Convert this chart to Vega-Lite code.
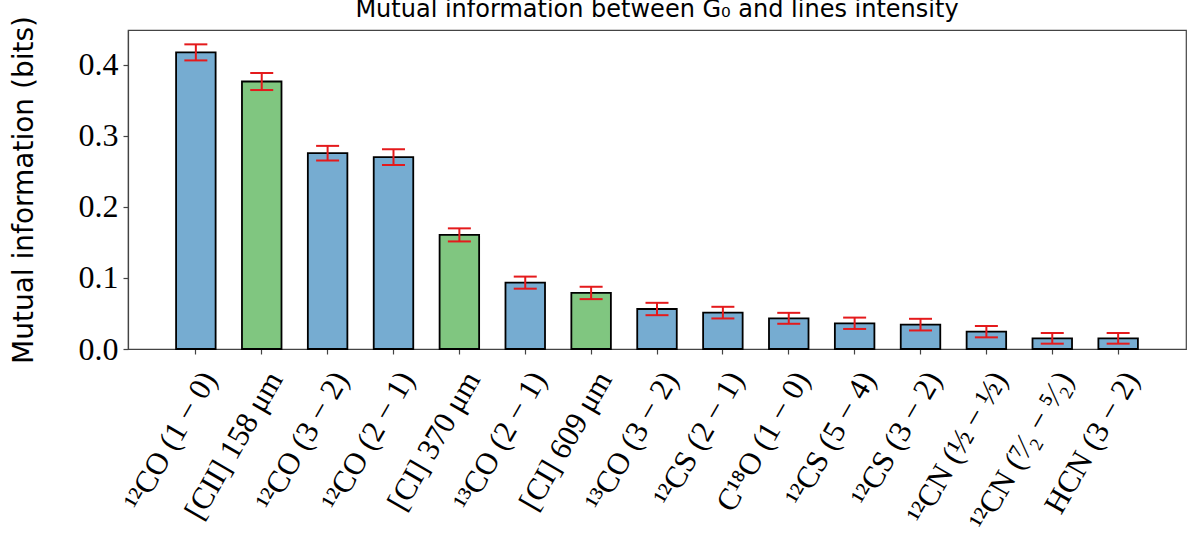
{
  "$schema": "https://vega.github.io/schema/vega-lite/v6.json",
  "width": 1058,
  "height": 319,
  "autosize": {"type": "none"},
  "padding": {"left": 128, "top": 30, "right": 10, "bottom": 188},
  "background": "#ffffff",
  "title": {
    "text": "Mutual information between G₀ and lines intensity",
    "font": "DejaVu Sans",
    "fontSize": 24,
    "fontWeight": "normal",
    "color": "#000000",
    "baseline": "alphabetic",
    "offset": 6,
    "dy": 31
  },
  "data": {
    "values": [
      {"line": "¹²CO (1 − 0)", "kind": "molecular", "mi": 0.4175, "err": 0.0113},
      {"line": "[CII] 158 μm", "kind": "atomic", "mi": 0.3765, "err": 0.012},
      {"line": "¹²CO (3 − 2)", "kind": "molecular", "mi": 0.2756, "err": 0.0103},
      {"line": "¹²CO (2 − 1)", "kind": "molecular", "mi": 0.270, "err": 0.011},
      {"line": "[CI] 370 μm", "kind": "atomic", "mi": 0.1606, "err": 0.0092},
      {"line": "¹³CO (2 − 1)", "kind": "molecular", "mi": 0.0934, "err": 0.0085},
      {"line": "[CI] 609 μm", "kind": "atomic", "mi": 0.0789, "err": 0.0087},
      {"line": "¹³CO (3 − 2)", "kind": "molecular", "mi": 0.0563, "err": 0.0087},
      {"line": "¹²CS (2 − 1)", "kind": "molecular", "mi": 0.0512, "err": 0.0082},
      {"line": "C¹⁸O (1 − 0)", "kind": "molecular", "mi": 0.0432, "err": 0.0077},
      {"line": "¹²CS (5 − 4)", "kind": "molecular", "mi": 0.0362, "err": 0.008},
      {"line": "¹²CS (3 − 2)", "kind": "molecular", "mi": 0.0343, "err": 0.0082},
      {"line": "¹²CN (½ − ½)", "kind": "molecular", "mi": 0.0244, "err": 0.008},
      {"line": "¹²CN (⁷⁄₂ − ⁵⁄₂)", "kind": "molecular", "mi": 0.015, "err": 0.0075},
      {"line": "HCN (3 − 2)", "kind": "molecular", "mi": 0.015, "err": 0.0075}
    ]
  },
  "config": {
    "view": {"stroke": "#444444", "strokeWidth": 1.2},
    "axis": {"domainColor": "#444444", "tickColor": "#444444", "grid": false, "domainWidth": 1.2, "tickWidth": 1.2}
  },
  "layer": [
    {
      "mark": {"type": "bar", "stroke": "#000000", "strokeWidth": 1.8},
      "encoding": {
        "x": {
          "field": "line",
          "type": "nominal",
          "sort": null,
          "scale": {"paddingInner": 0.4, "paddingOuter": 0.73},
          "axis": {
            "title": null,
            "labelAngle": -60,
            "labelFont": "Liberation Serif",
            "labelFontSize": 31,
            "labelColor": "#000000",
            "labelAlign": "right",
            "labelBaseline": "middle",
            "labelOffset": 14,
            "labelPadding": 20,
            "tickSize": 5,
            "labelLimit": 400
          }
        },
        "y": {
          "field": "mi",
          "type": "quantitative",
          "scale": {"domain": [0, 0.449], "nice": false, "zero": true},
          "axis": {
            "title": "Mutual information (bits)",
            "titleFont": "DejaVu Sans",
            "titleFontSize": 28,
            "titleFontWeight": "normal",
            "titleColor": "#000000",
            "titlePadding": 40,
            "values": [0, 0.1, 0.2, 0.3, 0.4],
            "format": ".1f",
            "labelFont": "Liberation Serif",
            "labelFontSize": 32,
            "labelFontWeight": "normal",
            "labelColor": "#000000",
            "labelPadding": 5,
            "tickSize": 5
          }
        },
        "color": {
          "field": "kind",
          "type": "nominal",
          "scale": {"domain": ["molecular", "atomic"], "range": ["#76acd1", "#80c680"]},
          "legend": null
        }
      }
    },
    {
      "mark": {
        "type": "errorbar",
        "color": "#e41a1c",
        "thickness": 2,
        "opacity": 1,
        "ticks": {"size": 23, "thickness": 2, "color": "#e41a1c", "opacity": 1}
      },
      "encoding": {
        "x": {"field": "line", "type": "nominal", "sort": null},
        "y": {"field": "mi", "type": "quantitative", "title": "Mutual information (bits)"},
        "yError": {"field": "err"}
      }
    }
  ]
}
